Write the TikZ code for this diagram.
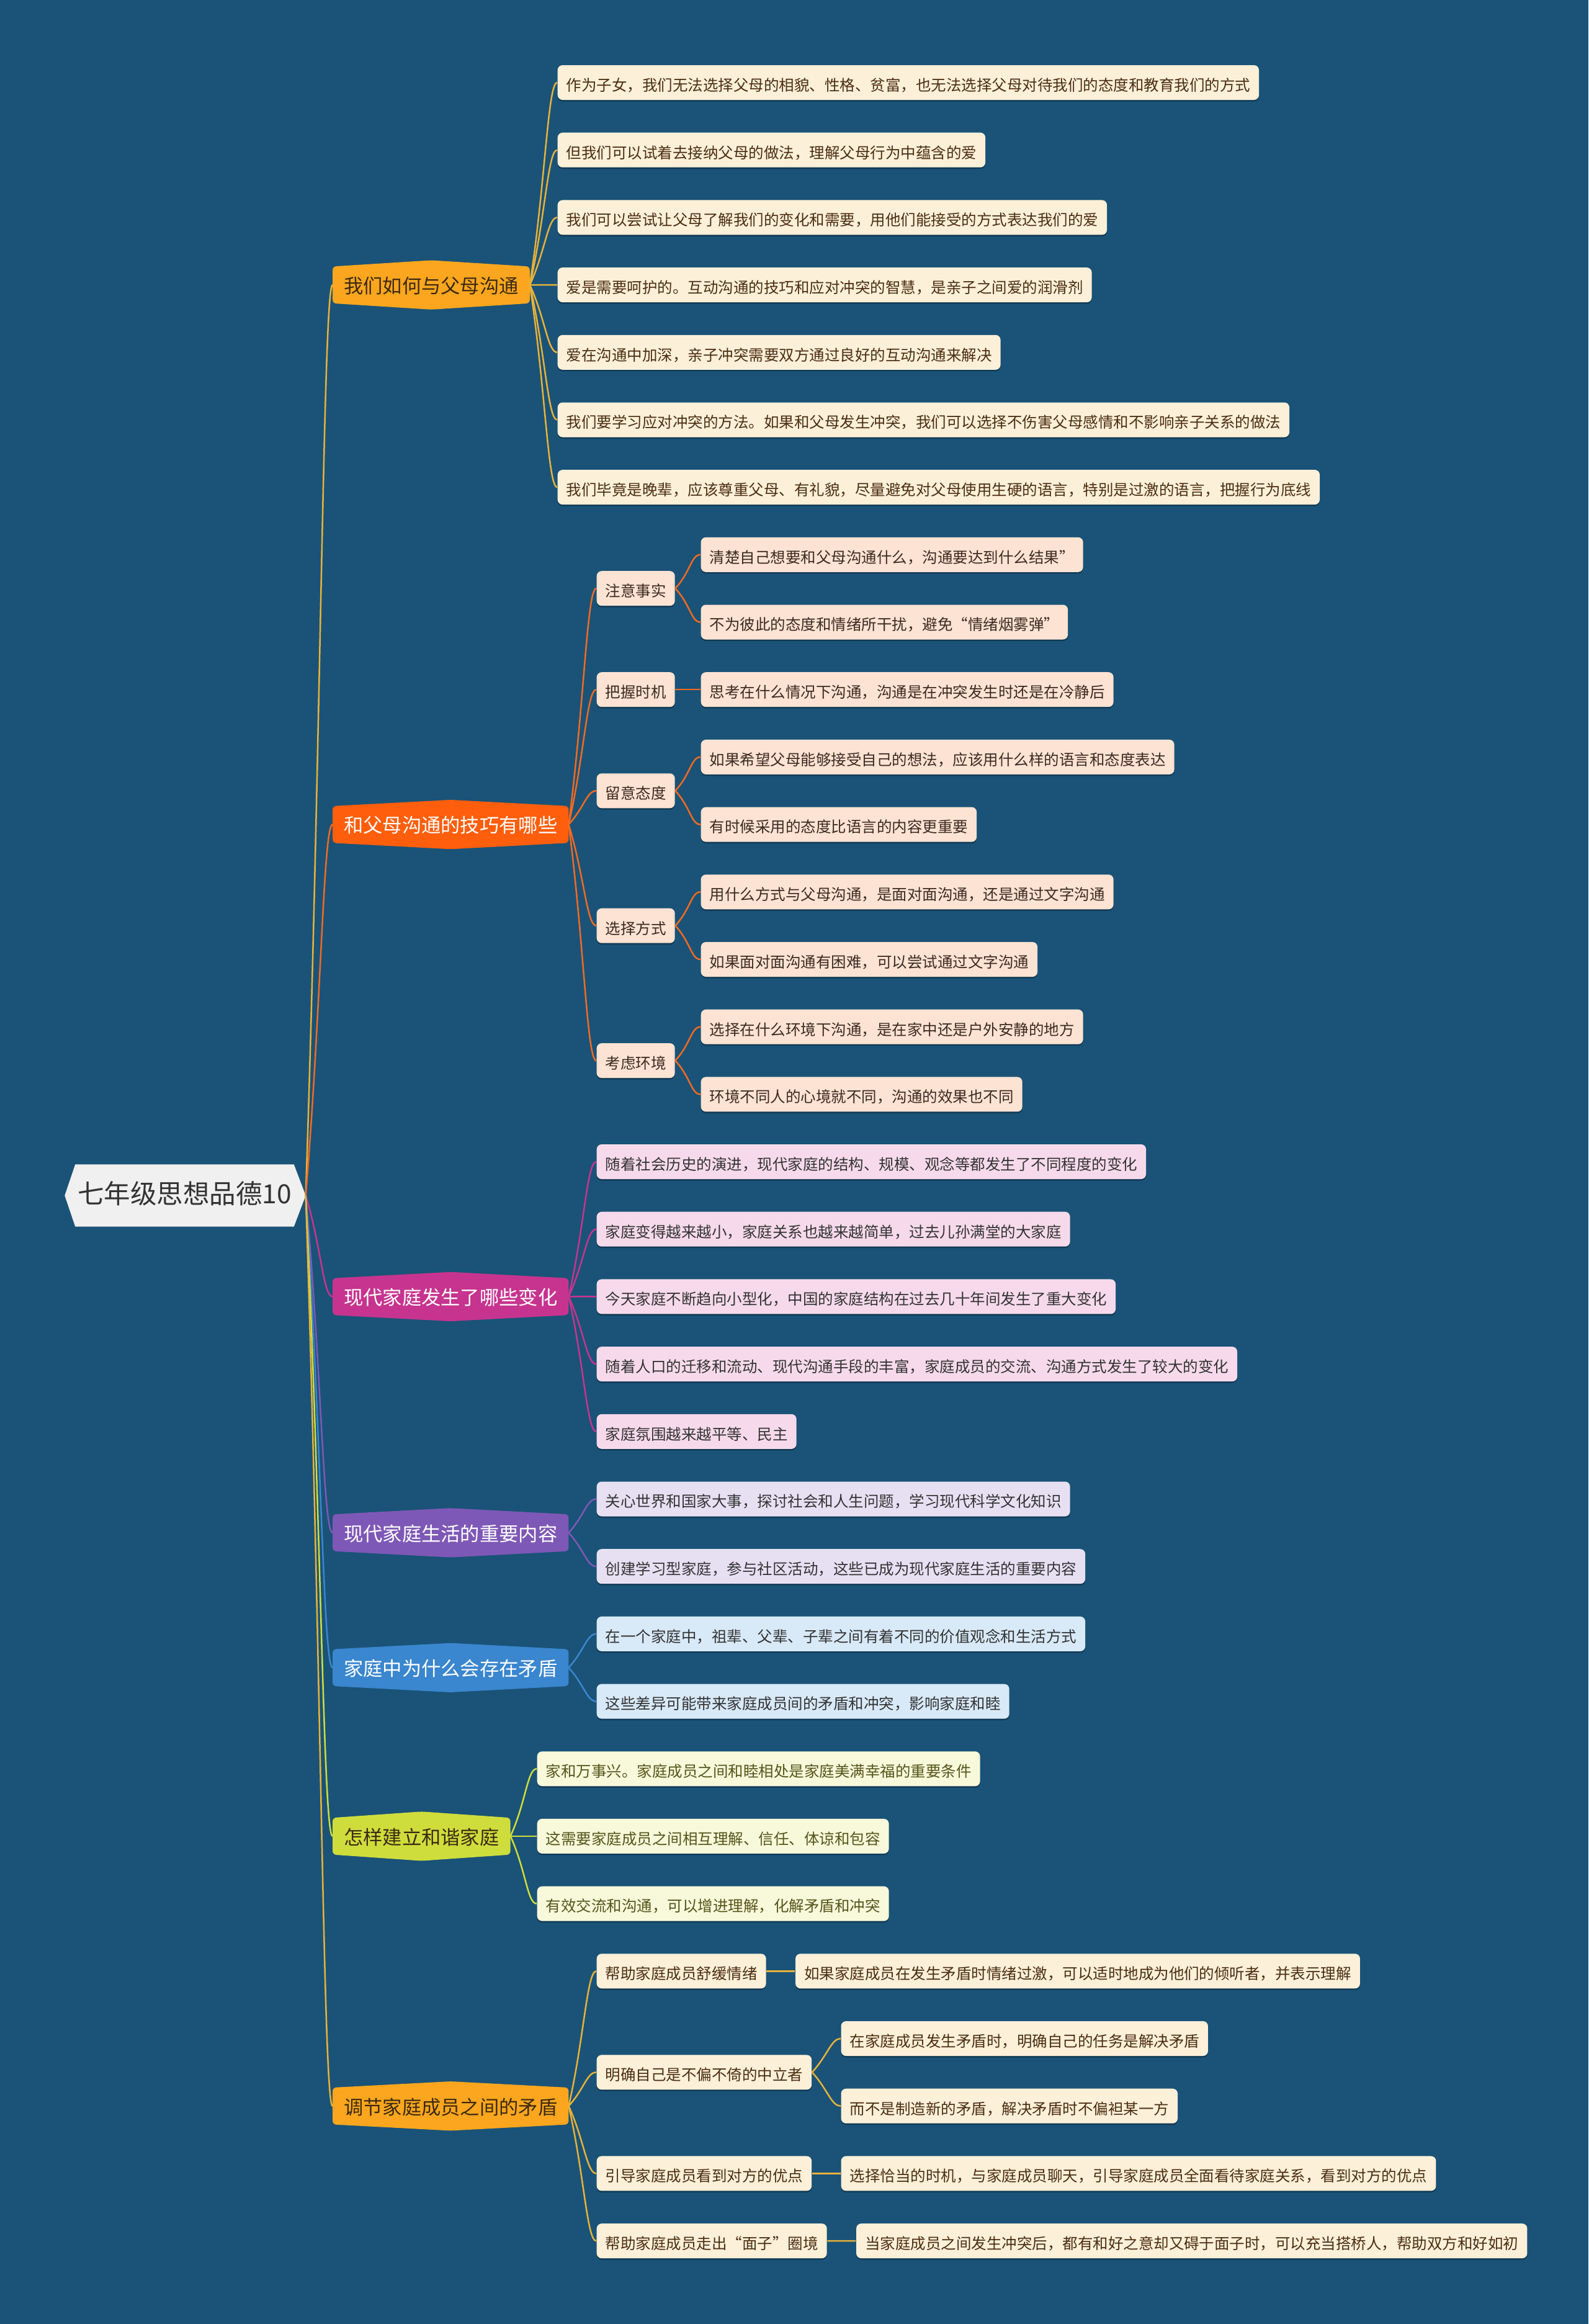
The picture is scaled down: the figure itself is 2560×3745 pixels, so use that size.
\documentclass[tikz,border=0pt]{standalone}
\usepackage{fontspec}
\setmainfont{Noto Sans CJK SC}
\usetikzlibrary{calc}
\pgfdeclarelayer{bg}
\pgfdeclarelayer{shapes}
\pgfsetlayers{bg,shapes,main}
\definecolor{bgc}{HTML}{1A5377}
\definecolor{shadowc}{HTML}{123A55}
\definecolor{rootfill}{HTML}{F0F0F0}
\definecolor{rootText}{HTML}{333333}
\definecolor{cA}{HTML}{FBA61E}
\definecolor{lA}{HTML}{E8B23A}
\definecolor{fA}{HTML}{FDF0D9}
\definecolor{tA}{HTML}{4A2E12}
\definecolor{cB}{HTML}{FF5E0C}
\definecolor{lB}{HTML}{F26A21}
\definecolor{fB}{HTML}{FDE3D3}
\definecolor{tB}{HTML}{3C2A22}
\definecolor{cC}{HTML}{C7348F}
\definecolor{fC}{HTML}{F6DAEB}
\definecolor{cD}{HTML}{7E58B6}
\definecolor{fD}{HTML}{E7E0F3}
\definecolor{cE}{HTML}{3A86CF}
\definecolor{fE}{HTML}{D8E9F8}
\definecolor{cF}{HTML}{CFDD3C}
\definecolor{fF}{HTML}{F8F8DB}
\definecolor{tF}{HTML}{55561A}
\definecolor{tD}{HTML}{333333}
\definecolor{tBr}{HTML}{3B2A12}
\tikzset{
  leaf/.style 2 args={fill=#1, text=#2, rounded corners=0.8mm, inner xsep=1.4mm, inner ysep=0pt,
    minimum height=5.6mm, anchor=west, font=\fontsize{6.97pt}{8pt}\selectfont,
    text height=0.88em, text depth=0.12em,
    preaction={fill=shadowc, transform canvas={yshift=-0.25mm}}},
  bnode/.style={text=#1, inner xsep=1.75mm, inner ysep=0pt, minimum height=5.8mm, anchor=west,
    font=\fontsize{8.9pt}{10pt}\selectfont, text height=0.88em, text depth=0.12em},
  rootn/.style={text=rootText, minimum width=35.1mm, minimum height=9.9mm, inner sep=0pt,
    font=\fontsize{12.1pt}{14pt}\selectfont, text height=0.88em, text depth=0.12em},
  conn/.style={line width=0.25mm, draw=#1, to path={let \p1=(\tikztostart), \p2=(\tikztotarget) in
    .. controls ({\x1+2.5mm},{0.5*\y1+0.5*\y2}) and ({\x2-1.5mm},\y2) .. (\tikztotarget)}}
}
\newcommand\bshape[2]{\begin{pgfonlayer}{shapes}\fill[#2, rounded corners=0.6mm] (#1.west) -- (#1.north west) -- ([yshift=1mm]#1.north) -- (#1.north east) -- (#1.south east) -- ([yshift=-1mm]#1.south) -- (#1.south west) -- cycle;\end{pgfonlayer}}
\begin{document}
\begin{tikzpicture}[x=0.1mm, y=-0.1mm]
\begin{pgfonlayer}{bg}
\fill[bgc] (0,0) rectangle (2560,3745);
\end{pgfonlayer}
\useasboundingbox (0,0) rectangle (2560,3745);

% root
\node[rootn] (root) at (297.5,1926.5) {七年级思想品德10};
\coordinate (rootR) at ([xshift=1.9mm]root.east);
\begin{pgfonlayer}{shapes}
\fill[rootfill] (root.north west) -- (root.north east) -- (rootR) -- (root.south east) -- (root.south west) -- ([xshift=-1.7mm]root.west) -- cycle;
\end{pgfonlayer}

% branches
\node[bnode=tBr] (b1) at (536,459.1) {我们如何与父母沟通};
\node[bnode=white] (b2) at (536,1328.6) {和父母沟通的技巧有哪些};
\node[bnode=white] (b3) at (536,2089.4) {现代家庭发生了哪些变化};
\node[bnode=white] (b4) at (536,2469.9) {现代家庭生活的重要内容};
\node[bnode=white] (b5) at (536,2687.3) {家庭中为什么会存在矛盾};
\node[bnode=tBr] (b6) at (536,2958.9) {怎样建立和谐家庭};
\node[bnode=tBr] (b7) at (536,3393.7) {调节家庭成员之间的矛盾};
\bshape{b1}{cA}\bshape{b2}{cB}\bshape{b3}{cC}\bshape{b4}{cD}\bshape{b5}{cE}\bshape{b6}{cF}\bshape{b7}{cA}

\draw[conn=lA] (rootR) to (b1.west);
\draw[conn=lB] (rootR) to (b2.west);
\draw[conn=cC] (rootR) to (b3.west);
\draw[conn=cD] (rootR) to (b4.west);
\draw[conn=cE] (rootR) to (b5.west);
\draw[conn=cF] (rootR) to (b6.west);
\draw[conn=lA] (rootR) to (b7.west);

% branch 1 leaves
\node[leaf={fA}{tA}] (l10) at (898,133.0) {作为子女，我们无法选择父母的相貌、性格、贫富，也无法选择父母对待我们的态度和教育我们的方式};
\node[leaf={fA}{tA}] (l11) at (898,241.7) {但我们可以试着去接纳父母的做法，理解父母行为中蕴含的爱};
\node[leaf={fA}{tA}] (l12) at (898,350.4) {我们可以尝试让父母了解我们的变化和需要，用他们能接受的方式表达我们的爱};
\node[leaf={fA}{tA}] (l13) at (898,459.1) {爱是需要呵护的。互动沟通的技巧和应对冲突的智慧，是亲子之间爱的润滑剂};
\node[leaf={fA}{tA}] (l14) at (898,567.8) {爱在沟通中加深，亲子冲突需要双方通过良好的互动沟通来解决};
\node[leaf={fA}{tA}] (l15) at (898,676.5) {我们要学习应对冲突的方法。如果和父母发生冲突，我们可以选择不伤害父母感情和不影响亲子关系的做法};
\node[leaf={fA}{tA}] (l16) at (898,785.1) {我们毕竟是晚辈，应该尊重父母、有礼貌，尽量避免对父母使用生硬的语言，特别是过激的语言，把握行为底线};
\foreach \i in {0,...,6}{\draw[conn=lA] (b1.east) to (l1\i.west);}

% branch 2
\node[leaf={fB}{tB}] (s21) at (961,948.2) {注意事实};
\node[leaf={fB}{tB}] (s22) at (961,1111.2) {把握时机};
\node[leaf={fB}{tB}] (s23) at (961,1274.3) {留意态度};
\node[leaf={fB}{tB}] (s24) at (961,1491.7) {选择方式};
\node[leaf={fB}{tB}] (s25) at (961,1709.1) {考虑环境};
\foreach \i in {1,...,5}{\draw[conn=lB] (b2.east) to (s2\i.west);}
\node[leaf={fB}{tB}] (l21a) at (1129,893.8) {清楚自己想要和父母沟通什么，沟通要达到什么结果”};
\node[leaf={fB}{tB}] (l21b) at (1129,1002.5) {不为彼此的态度和情绪所干扰，避免“情绪烟雾弹”};
\node[leaf={fB}{tB}] (l22) at (1129,1111.2) {思考在什么情况下沟通，沟通是在冲突发生时还是在冷静后};
\node[leaf={fB}{tB}] (l23a) at (1129,1219.9) {如果希望父母能够接受自己的想法，应该用什么样的语言和态度表达};
\node[leaf={fB}{tB}] (l23b) at (1129,1328.6) {有时候采用的态度比语言的内容更重要};
\node[leaf={fB}{tB}] (l24a) at (1129,1437.3) {用什么方式与父母沟通，是面对面沟通，还是通过文字沟通};
\node[leaf={fB}{tB}] (l24b) at (1129,1546.0) {如果面对面沟通有困难，可以尝试通过文字沟通};
\node[leaf={fB}{tB}] (l25a) at (1129,1654.7) {选择在什么环境下沟通，是在家中还是户外安静的地方};
\node[leaf={fB}{tB}] (l25b) at (1129,1763.4) {环境不同人的心境就不同，沟通的效果也不同};
\draw[conn=lB] (s21.east) to (l21a.west);
\draw[conn=lB] (s21.east) to (l21b.west);
\draw[conn=lB] (s22.east) to (l22.west);
\draw[conn=lB] (s23.east) to (l23a.west);
\draw[conn=lB] (s23.east) to (l23b.west);
\draw[conn=lB] (s24.east) to (l24a.west);
\draw[conn=lB] (s24.east) to (l24b.west);
\draw[conn=lB] (s25.east) to (l25a.west);
\draw[conn=lB] (s25.east) to (l25b.west);

% branch 3
\node[leaf={fC}{tD}] (l30) at (961,1872.0) {随着社会历史的演进，现代家庭的结构、规模、观念等都发生了不同程度的变化};
\node[leaf={fC}{tD}] (l31) at (961,1980.7) {家庭变得越来越小，家庭关系也越来越简单，过去儿孙满堂的大家庭};
\node[leaf={fC}{tD}] (l32) at (961,2089.4) {今天家庭不断趋向小型化，中国的家庭结构在过去几十年间发生了重大变化};
\node[leaf={fC}{tD}] (l33) at (961,2198.1) {随着人口的迁移和流动、现代沟通手段的丰富，家庭成员的交流、沟通方式发生了较大的变化};
\node[leaf={fC}{tD}] (l34) at (961,2306.8) {家庭氛围越来越平等、民主};
\foreach \i in {0,...,4}{\draw[conn=cC] (b3.east) to (l3\i.west);}

% branch 4
\node[leaf={fD}{tD}] (l40) at (961,2415.5) {关心世界和国家大事，探讨社会和人生问题，学习现代科学文化知识};
\node[leaf={fD}{tD}] (l41) at (961,2524.2) {创建学习型家庭，参与社区活动，这些已成为现代家庭生活的重要内容};
\foreach \i in {0,1}{\draw[conn=cD] (b4.east) to (l4\i.west);}

% branch 5
\node[leaf={fE}{tD}] (l50) at (961,2632.9) {在一个家庭中，祖辈、父辈、子辈之间有着不同的价值观念和生活方式};
\node[leaf={fE}{tD}] (l51) at (961,2741.6) {这些差异可能带来家庭成员间的矛盾和冲突，影响家庭和睦};
\foreach \i in {0,1}{\draw[conn=cE] (b5.east) to (l5\i.west);}

% branch 6
\node[leaf={fF}{tF}] (l60) at (865,2850.3) {家和万事兴。家庭成员之间和睦相处是家庭美满幸福的重要条件};
\node[leaf={fF}{tF}] (l61) at (865,2958.9) {这需要家庭成员之间相互理解、信任、体谅和包容};
\node[leaf={fF}{tF}] (l62) at (865,3067.6) {有效交流和沟通，可以增进理解，化解矛盾和冲突};
\foreach \i in {0,...,2}{\draw[conn=cF] (b6.east) to (l6\i.west);}

% branch 7
\node[leaf={fA}{tA}] (s71) at (961,3176.3) {帮助家庭成员舒缓情绪};
\node[leaf={fA}{tA}] (s72) at (961,3339.35) {明确自己是不偏不倚的中立者};
\node[leaf={fA}{tA}] (s73) at (961,3502.4) {引导家庭成员看到对方的优点};
\node[leaf={fA}{tA}] (s74) at (961,3611.1) {帮助家庭成员走出“面子”圈境};
\foreach \i in {1,...,4}{\draw[conn=lA] (b7.east) to (s7\i.west);}
\coordinate (y72a) at (0,3285.0);
\coordinate (y72b) at (0,3393.7);
\path (s71.east) ++(46,0) coordinate (t71);
\path (s72.east) ++(46,0) coordinate (t72);
\path (s73.east) ++(46,0) coordinate (t73);
\path (s74.east) ++(46,0) coordinate (t74);
\node[leaf={fA}{tA}] (l71) at (t71) {如果家庭成员在发生矛盾时情绪过激，可以适时地成为他们的倾听者，并表示理解};
\node[leaf={fA}{tA}] (l72a) at (t72 |- y72a) {在家庭成员发生矛盾时，明确自己的任务是解决矛盾};
\node[leaf={fA}{tA}] (l72b) at (t72 |- y72b) {而不是制造新的矛盾，解决矛盾时不偏袒某一方};
\node[leaf={fA}{tA}] (l73) at (t73) {选择恰当的时机，与家庭成员聊天，引导家庭成员全面看待家庭关系，看到对方的优点};
\node[leaf={fA}{tA}] (l74) at (t74) {当家庭成员之间发生冲突后，都有和好之意却又碍于面子时，可以充当搭桥人，帮助双方和好如初};
\draw[conn=lA] (s71.east) to (l71.west);
\draw[conn=lA] (s72.east) to (l72a.west);
\draw[conn=lA] (s72.east) to (l72b.west);
\draw[conn=lA] (s73.east) to (l73.west);
\draw[conn=lA] (s74.east) to (l74.west);
\end{tikzpicture}
\end{document}
